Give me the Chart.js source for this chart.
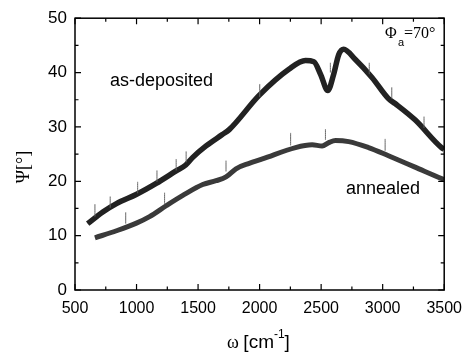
<!DOCTYPE html>
<html>
<head>
<meta charset="utf-8">
<script src="https://cdn.jsdelivr.net/npm/chart.js@4"></script>
<style>
  html, body { margin: 0; padding: 0; background: #fff; }
  #wrap { width: 471px; height: 358px; }
</style>
</head>
<body>
<div id="wrap"><canvas id="psi-chart"></canvas></div>
<script>
// wavenumber (cm-1) and Psi (deg)
var depX = [603, 729, 837, 1001, 1160, 1322, 1400, 1457, 1565, 1697, 1753, 1996, 2238, 2373, 2441, 2495, 2554, 2602, 2643, 2683, 2778, 2913, 3047, 3101, 3263, 3478, 3500];
var depY = [12.2, 14.4, 15.9, 17.6, 19.6, 21.9, 23.0, 24.4, 26.5, 28.6, 29.5, 35.8, 40.6, 42.2, 42.0, 39.7, 36.7, 39.7, 43.3, 44.3, 42.4, 39.1, 35.2, 34.3, 31.3, 26.2, 25.9];
var annX = [662, 837, 999, 1106, 1241, 1376, 1538, 1646, 1727, 1808, 1915, 2023, 2292, 2427, 2508, 2562, 2616, 2724, 2885, 3047, 3263, 3478, 3500];
var annY = [9.6, 10.9, 12.3, 13.5, 15.5, 17.4, 19.4, 20.1, 20.8, 22.3, 23.3, 24.1, 26.2, 26.7, 26.5, 27.1, 27.5, 27.3, 26.2, 24.7, 22.6, 20.5, 20.3];

// short vertical marker lines above the curves
var depMarkX = [662, 786, 1009, 1166, 1322, 1403, 2001, 2575, 2891, 3074, 3336];
var depMarkLo = [13.5, 15.1, 17.8, 19.9, 22.0, 23.5, 35.5, 40.0, 39.7, 35.2, 29.8];
var depMarkHi = [15.8, 17.2, 19.9, 22.0, 24.1, 25.5, 37.9, 41.8, 41.8, 37.3, 31.9];
var annMarkX = [912, 1228, 1727, 2252, 2535, 3020];
var annMarkLo = [12.2, 15.8, 21.8, 26.6, 27.6, 25.6];
var annMarkHi = [14.3, 17.9, 23.8, 28.9, 29.6, 27.8];

var xTicks = [500, 1000, 1500, 2000, 2500, 3000, 3500];
var yTicks = [0, 10, 20, 30, 40, 50];

function pts(xs, ys) {
    return xs.map(function(x, i) { return {x: x, y: ys[i]}; });
}
function marks(xs, lo, hi) {
    var out = [];
    xs.forEach(function(x, i) {
        out.push({x: x, y: lo[i]}, {x: x, y: hi[i]}, {x: x, y: null});
    });
    return out;
}

function curve(data, color, width, dash) {
    return {
        data: data,
        showLine: true,
        borderColor: color,
        borderWidth: width,
        borderDash: dash || [],
        pointRadius: 0,
        cubicInterpolationMode: 'monotone',
        fill: false
    };
}

var frame = {
    id: 'frame',
    afterDraw: function(chart) {
        var c = chart.ctx, a = chart.chartArea;
        var xs = chart.scales.x, ys = chart.scales.y;
        c.save();
        c.strokeStyle = '#000';
        c.lineWidth = 1.5;
        c.strokeRect(a.left, a.top, a.right - a.left, a.bottom - a.top);
        c.lineWidth = 1.2;
        c.beginPath();
        for (var v = 500; v <= 3500; v += 250) {
            var px = xs.getPixelForValue(v);
            var len = (v % 500 === 0) ? 6 : 3.5;
            c.moveTo(px, a.bottom); c.lineTo(px, a.bottom - len);
            c.moveTo(px, a.top); c.lineTo(px, a.top + len);
        }
        for (var w = 0; w <= 50; w += 5) {
            var py = ys.getPixelForValue(w);
            var l2 = (w % 10 === 0) ? 6 : 3.5;
            c.moveTo(a.left, py); c.lineTo(a.left + l2, py);
            c.moveTo(a.right, py); c.lineTo(a.right - l2, py);
        }
        c.stroke();

        c.fillStyle = '#000';
        c.textBaseline = 'alphabetic';
        c.textAlign = 'left';
        // x title
        var x0 = 227, by = 348;
        c.font = '18px "Liberation Serif"';
        c.fillText('ω', x0, by);
        x0 += c.measureText('ω ').width;
        c.font = '19px "Liberation Sans"';
        c.fillText('[cm', x0, by);
        x0 += c.measureText('[cm').width;
        c.font = '12px "Liberation Sans"';
        c.fillText('-1', x0, by - 10);
        x0 += c.measureText('-1').width;
        c.font = '19px "Liberation Sans"';
        c.fillText(']', x0, by);

        // y title
        c.save();
        c.translate(29, 167);
        c.rotate(-Math.PI / 2);
        c.textAlign = 'center';
        c.font = '18px "Liberation Serif"';
        c.fillText('Ψ[°]', 0, 0);
        c.restore();

        // angle label
        c.font = '16px "Liberation Serif"';
        c.fillText('Φ', 385, 38);
        c.font = '11px "Liberation Sans"';
        c.fillText('a', 398, 46);
        c.font = '16px "Liberation Serif"';
        c.fillText('=70°', 404, 38);

        // curve labels
        c.font = '18px "Liberation Sans"';
        c.fillText('as-deposited', 110, 86);
        c.fillText('annealed', 346, 194);
        c.restore();
    }
};

document.addEventListener("DOMContentLoaded", function() {
    var ctx = document.getElementById('psi-chart').getContext('2d');
    var psiChart = new Chart(ctx, {
        type: 'scatter',
        data: {
            datasets: [
                curve(marks(depMarkX, depMarkLo, depMarkHi), '#666', 1),
                curve(marks(annMarkX, annMarkLo, annMarkHi), '#666', 1),
                curve(pts(annX, annY), '#3a3a3a', 5),
                curve(pts(annX, annY), '#d0d0d0', 1.5, [1.5, 1.5]),
                curve(pts(depX, depY), '#222', 5.5),
                curve(pts(depX, depY), '#a0a0a0', 1.5, [1.5, 1.5])
            ]
        },
        options: {
            responsive: true,
            maintainAspectRatio: false,
            animation: false,
            spanGaps: false,
            layout: { padding: { top: 13, right: 25, left: 0, bottom: 0 } },
            plugins: {
                legend: { display: false },
                tooltip: { enabled: false }
            },
            scales: {
                x: {
                    type: 'linear',
                    min: 500, max: 3500,
                    afterBuildTicks: function(s) { s.ticks = xTicks.map(function(v) { return {value: v}; }); },
                    afterFit: function(s) { s.height = 68; },
                    grid: { display: false, drawTicks: false },
                    border: { display: false },
                    ticks: {
                        color: '#000', padding: 9,
                        font: { family: 'Liberation Sans', size: 16 },
                        callback: function(v) { return String(v); }
                    }
                },
                y: {
                    min: 0, max: 50,
                    afterBuildTicks: function(s) { s.ticks = yTicks.map(function(v) { return {value: v}; }); },
                    afterFit: function(s) { s.width = 75; },
                    grid: { display: false, drawTicks: false },
                    border: { display: false },
                    ticks: {
                        color: '#000', padding: 8,
                        font: { family: 'Liberation Sans', size: 17 },
                        callback: function(v) { return String(v); }
                    }
                }
            }
        },
        plugins: [frame]
    });
});
</script>
</body>
</html>
